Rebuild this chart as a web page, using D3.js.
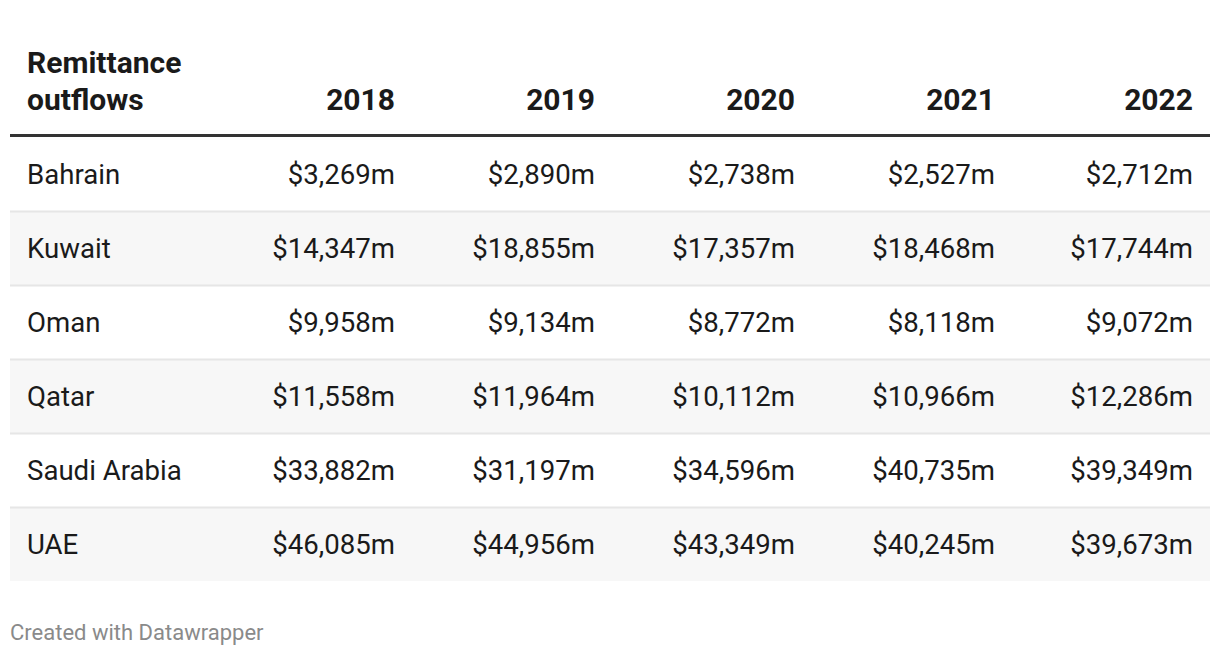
<!DOCTYPE html>
<html><head><meta charset="utf-8">
<script src="https://cdn.jsdelivr.net/npm/d3@7"></script>
<style>
body{margin:0;background:#fff;}
text{font-family:Roboto,"Noto Sans",sans-serif;}
</style></head>
<body><svg id="c" width="1220" height="656"></svg>
<script>
const headerLines = ["Remittance", "outflows"];
const years = ["2018", "2019", "2020", "2021", "2022"];
const countries = ["Bahrain", "Kuwait", "Oman", "Qatar", "Saudi Arabia", "UAE"];
const v2018 = [3269, 14347, 9958, 11558, 33882, 46085];
const v2019 = [2890, 18855, 9134, 11964, 31197, 44956];
const v2020 = [2738, 17357, 8772, 10112, 34596, 43349];
const v2021 = [2527, 18468, 8118, 10966, 40735, 40245];
const v2022 = [2712, 17744, 9072, 12286, 39349, 39673];
const footer = "Created with Datawrapper";

const series = [v2018, v2019, v2020, v2021, v2022];
const svg = d3.select("#c");
const left = 10, right = 1210;
const y = d3.scaleBand().domain(countries).range([137, 581]);
const x = d3.scaleBand().domain(years).range([210, 1210]);
const fmt = d => "$" + d3.format(",")(d) + "m";
const colRight = yr => x(yr) + x.bandwidth() - 15 - (yr === "2022" ? 2 : 0);

// row backgrounds
svg.selectAll("rect.row").data(countries).join("rect")
  .attr("x", left).attr("width", right - left)
  .attr("y", d => y(d)).attr("height", y.bandwidth())
  .attr("fill", (d, i) => i % 2 ? "#f7f7f7" : "#ffffff");
// separators
svg.selectAll("line.sep").data(countries.slice(1)).join("line")
  .attr("x1", left).attr("x2", right)
  .attr("y1", d => y(d) + 0.5).attr("y2", d => y(d) + 0.5)
  .attr("stroke", "#e6e6e6").attr("stroke-width", 2);

// header
svg.append("line").attr("x1", left).attr("x2", right).attr("y1", 135.5).attr("y2", 135.5)
  .attr("stroke", "#333").attr("stroke-width", 3);
svg.selectAll("text.h").data(headerLines).join("text")
  .attr("x", 27).attr("y", (d, i) => 73 + i * 37)
  .attr("font-size", 30).attr("font-weight", 700).attr("fill", "#1a1a1a").text(d => d);
svg.selectAll("text.yr").data(years).join("text")
  .attr("x", colRight).attr("y", 110)
  .attr("text-anchor", "end").attr("font-size", 30).attr("font-weight", 700).attr("fill", "#1a1a1a").text(d => d);

// body
const yMid = d => y(d) + y.bandwidth() / 2 + 10;
svg.selectAll("text.c").data(countries).join("text")
  .attr("x", 27).attr("y", yMid).attr("font-size", 27.6).attr("fill", "#1a1a1a").text(d => d);
years.forEach((yr, j) => {
  svg.selectAll("text.v" + j).data(series[j]).join("text")
    .attr("x", colRight(yr))
    .attr("y", (d, i) => yMid(countries[i]))
    .attr("text-anchor", "end").attr("font-size", 27.6).attr("fill", "#1a1a1a").text(fmt);
});

svg.append("text").attr("x", 10).attr("y", 640).attr("font-size", 22).attr("fill", "#8a8a8a").text(footer);
</script></body></html>
